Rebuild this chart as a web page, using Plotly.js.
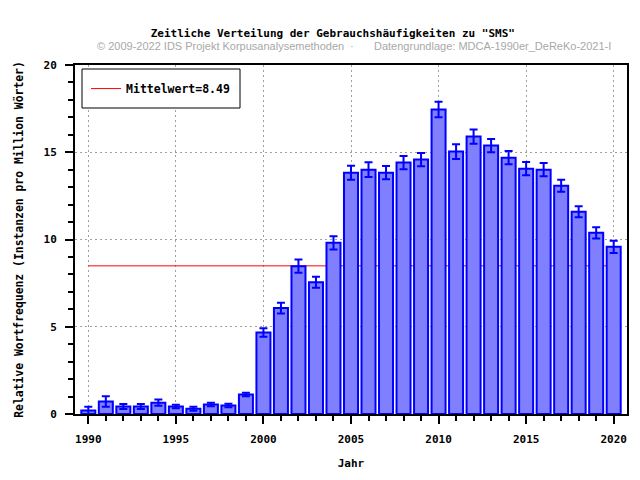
<!DOCTYPE html>
<html>
<head>
<meta charset="utf-8">
<script src="https://cdn.plot.ly/plotly-3.0.1.min.js"></script>
<style>html,body{margin:0;padding:0;background:#fff;}#chart{width:640px;height:480px;}</style>
</head>
<body>
<div id="chart"></div>
<script>
const years = [1990,1991,1992,1993,1994,1995,1996,1997,1998,1999,2000,2001,2002,2003,2004,2005,2006,2007,2008,2009,2010,2011,2012,2013,2014,2015,2016,2017,2018,2019,2020];
const values = [0.2,0.72,0.43,0.43,0.65,0.43,0.3,0.55,0.49,1.12,4.67,6.07,8.47,7.55,9.81,13.83,14.0,13.83,14.41,14.58,17.45,15.04,15.9,15.38,14.69,14.06,14.0,13.08,11.59,10.38,9.58];
const errors = [0.22,0.3,0.14,0.14,0.18,0.1,0.11,0.1,0.1,0.1,0.24,0.31,0.38,0.32,0.38,0.4,0.42,0.38,0.38,0.38,0.44,0.42,0.41,0.38,0.38,0.38,0.38,0.35,0.32,0.32,0.35];
const meanValue = 8.49;
const meanLabel = 'Mittelwert=8.49';
const titleText = 'Zeitliche Verteilung der Gebrauchshäufigkeiten zu "SMS"';
const creditLeft = '© 2009-2022 IDS Projekt Korpusanalysemethoden';
const creditDot = '·';
const creditRight = 'Datengrundlage: MDCA-1990er_DeReKo-2021-I';
const xTitle = 'Jahr';
const yTitle = 'Relative Wortfrequenz (Instanzen pro Million Wörter)';

const mono = {family: '"DejaVu Sans Mono", "Liberation Mono", monospace', size: 11, color: '#000', weight: 'bold'};
const credit = {family: '"Liberation Sans", Arial, sans-serif', size: 11, color: '#a8a8a8', weight: 'normal'};

const traces = [
  {
    type: 'bar', x: years, y: values, width: 0.8,
    marker: {color: '#8080ff', line: {color: '#0000ff', width: 2}},
    error_y: {type: 'data', array: errors, visible: true, color: '#0000ff', thickness: 2, width: 4},
    showlegend: false, hoverinfo: 'x+y'
  },
  {
    type: 'scatter', mode: 'lines', x: [null], y: [null], name: meanLabel,
    line: {color: '#ff0000', width: 1}, showlegend: true
  }
];

const layout = {
  width: 640, height: 480,
  margin: {l: 75, r: 13, t: 65, b: 66},
  paper_bgcolor: '#fff', plot_bgcolor: '#fff',
  font: mono,
  title: {text: titleText, font: Object.assign({}, mono, {size: 11}), x: 0.52, xanchor: 'center', y: 0.931, yanchor: 'middle'},
  xaxis: {
    range: [1989.24, 2020.76], tick0: 1990, dtick: 5,
    ticks: 'outside', ticklen: 8, tickwidth: 2, tickcolor: '#000',
    showline: true, linecolor: '#000', linewidth: 2, mirror: true,
    showgrid: true, gridcolor: '#a0a0a0', gridwidth: 1, griddash: '2px,3px',
    zeroline: false, ticklabelstandoff: 6,
    tickfont: mono,
    minor: {dtick: 1, ticks: 'outside', ticklen: 5, tickwidth: 2, tickcolor: '#000', showgrid: false},
    title: {text: xTitle, font: mono, standoff: 14}
  },
  yaxis: {
    range: [0, 20], tick0: 0, dtick: 5,
    ticks: 'outside', ticklen: 8, tickwidth: 2, tickcolor: '#000',
    showline: true, linecolor: '#000', linewidth: 2, mirror: true,
    showgrid: true, gridcolor: '#a0a0a0', gridwidth: 1, griddash: '2px,3px',
    zeroline: false, ticklabelstandoff: 6,
    tickfont: mono,
    minor: {dtick: 1, ticks: 'outside', ticklen: 5, tickwidth: 2, tickcolor: '#000', showgrid: false},
    title: {text: yTitle, font: Object.assign({}, mono, {size: 11.4}), standoff: 18}
  },
  legend: {
    x: 0.02, y: 0.974, xanchor: 'left', yanchor: 'top',
    bgcolor: 'rgba(0,0,0,0)', borderwidth: 0,
    font: Object.assign({}, mono, {size: 11.5})
  },
  shapes: [
    {type: 'line', xref: 'x', yref: 'y', x0: years[0], x1: years[years.length - 1], y0: meanValue, y1: meanValue,
     line: {color: '#ff0000', width: 1}, layer: 'between'},
    {type: 'rect', xref: 'paper', yref: 'paper', x0: (82-75)/552, x1: (240-75)/552, y0: (414-108)/349, y1: (414-69)/349,
     fillcolor: '#fff', line: {color: '#000', width: 1}, layer: 'above'}
  ],
  annotations: [
    {text: creditLeft, xref: 'paper', yref: 'paper', x: (95-75)/552, xanchor: 'left', y: (414-46)/349, yanchor: 'middle', showarrow: false, font: credit},
    {text: creditDot, xref: 'paper', yref: 'paper', x: (352-75)/552, xanchor: 'center', y: (414-46)/349, yanchor: 'middle', showarrow: false, font: credit},
    {text: creditRight, xref: 'paper', yref: 'paper', x: (613-75)/552, xanchor: 'right', y: (414-46)/349, yanchor: 'middle', showarrow: false, font: credit}
  ]
};

Plotly.newPlot('chart', traces, layout, {displayModeBar: false, staticPlot: true});
</script>
</body>
</html>
